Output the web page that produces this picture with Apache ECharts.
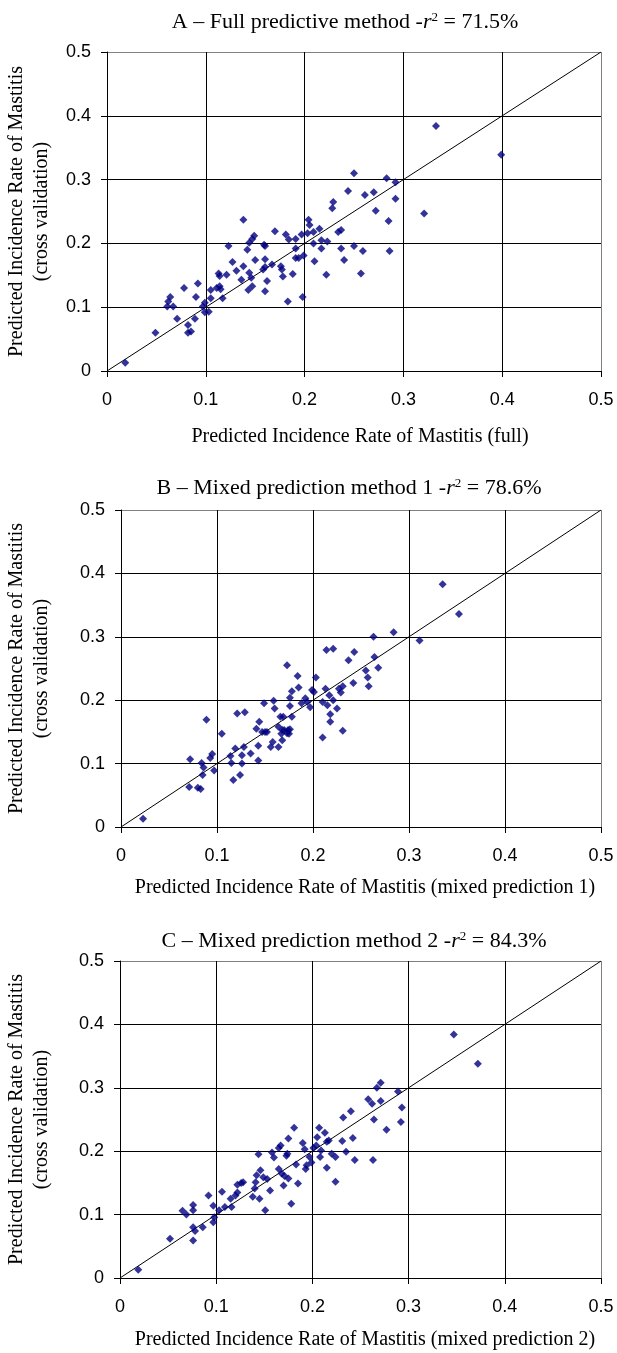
<!DOCTYPE html>
<html>
<head>
<meta charset="utf-8">
<script src="https://cdn.jsdelivr.net/npm/echarts@6/dist/echarts.min.js"></script>
<style>
html,body{margin:0;padding:0;background:#fff;}
#chart{width:617px;height:1353px;}
</style>
</head>
<body>
<div id="chart"></div>
<script>
// ---- Data ----
const tickLabels = ['0', '0.1', '0.2', '0.3', '0.4', '0.5'];
const diagX = [0, 0.5];
const diagY = [0, 0.5];

const titles = [
  'A – Full predictive method -{i|r}{s|2} = 71.5%',
  'B – Mixed prediction method 1 -{i|r}{s|2} = 78.6%',
  'C – Mixed prediction method 2 -{i|r}{s|2} = 84.3%'
];
const xNames = [
  'Predicted Incidence Rate of Mastitis (full)',
  'Predicted Incidence Rate of Mastitis (mixed prediction 1)',
  'Predicted Incidence Rate of Mastitis (mixed prediction 2)'
];
const yNameLine1 = 'Predicted Incidence Rate of Mastitis';
const yNameLine2 = '(cross validation)';

const xA = [0.0185,0.049,0.061,0.064,0.062,0.067,0.071,0.078,0.082,0.082,0.085,0.089,0.090,0.092,0.097,0.099,0.099,0.103,0.105,0.105,
  0.111,0.114,0.115,0.113,0.114,0.121,0.117,0.123,0.127,0.131,0.138,0.138,0.136,0.142,0.144,0.147,0.149,0.144,0.146,0.143,
  0.147,0.150,0.159,0.160,0.160,0.158,0.160,0.162,0.160,0.167,0.170,0.176,0.177,0.178,0.183,0.181,0.184,0.188,0.191,0.191,
  0.191,0.194,0.197,0.198,0.199,0.204,0.205,0.203,0.209,0.209,0.210,0.215,0.217,0.217,0.223,0.222,0.229,0.228,0.234,0.237,
  0.237,0.240,0.244,0.250,0.250,0.257,0.333,0.399,0.283,0.292,0.292,0.261,0.270,0.272,0.285,0.321,0.286,0.259];
const yA = [0.013,0.060,0.101,0.116,0.109,0.101,0.082,0.130,0.072,0.060,0.062,0.082,0.116,0.137,0.101,0.107,0.092,0.093,0.114,0.127,
  0.130,0.133,0.128,0.153,0.149,0.151,0.114,0.196,0.171,0.157,0.237,0.164,0.143,0.190,0.201,0.207,0.212,0.154,0.146,0.127,
  0.133,0.174,0.198,0.196,0.175,0.159,0.163,0.141,0.125,0.167,0.219,0.164,0.159,0.148,0.109,0.214,0.206,0.152,0.207,0.192,
  0.177,0.177,0.214,0.116,0.181,0.237,0.229,0.216,0.218,0.200,0.172,0.223,0.205,0.192,0.203,0.151,0.265,0.255,0.218,0.221,
  0.192,0.174,0.282,0.310,0.196,0.153,0.384,0.339,0.302,0.296,0.270,0.276,0.280,0.251,0.235,0.247,0.188,0.188];

const xB = [0.023,0.072,0.071,0.080,0.083,0.084,0.086,0.085,0.089,0.093,0.095,0.097,0.105,0.114,0.115,0.117,0.119,0.121,0.124,0.126,
  0.126,0.128,0.129,0.135,0.143,0.143,0.141,0.144,0.147,0.149,0.150,0.156,0.158,0.159,0.160,0.164,0.164,0.166,0.167,0.168,
  0.169,0.170,0.173,0.174,0.175,0.176,0.176,0.178,0.178,0.176,0.184,0.185,0.188,0.192,0.194,0.197,0.199,0.201,0.203,0.210,
  0.210,0.213,0.214,0.215,0.217,0.218,0.218,0.221,0.221,0.225,0.227,0.229,0.231,0.231,0.237,0.242,0.243,0.335,0.352,0.311,
  0.284,0.263,0.264,0.268,0.255,0.257,0.258,0.152,0.173,0.168];
const yB = [0.013,0.107,0.063,0.062,0.060,0.101,0.094,0.082,0.169,0.109,0.115,0.089,0.147,0.112,0.101,0.074,0.124,0.179,0.082,0.100,
  0.113,0.126,0.181,0.116,0.105,0.128,0.155,0.166,0.150,0.195,0.150,0.126,0.134,0.199,0.187,0.126,0.158,0.174,0.147,0.137,
  0.174,0.153,0.255,0.153,0.147,0.204,0.191,0.214,0.174,0.154,0.238,0.220,0.195,0.203,0.197,0.189,0.216,0.213,0.236,0.197,
  0.141,0.218,0.279,0.192,0.208,0.178,0.166,0.200,0.281,0.187,0.218,0.212,0.222,0.152,0.263,0.227,0.276,0.383,0.336,0.294,
  0.307,0.300,0.268,0.251,0.247,0.236,0.222,0.150,0.148,0.153];

const xC = [0.019,0.052,0.065,0.069,0.076,0.076,0.076,0.078,0.076,0.086,0.092,0.097,0.098,0.097,0.103,0.106,0.109,0.115,0.116,0.120,
  0.122,0.122,0.126,0.128,0.138,0.140,0.141,0.142,0.144,0.145,0.146,0.149,0.151,0.153,0.156,0.158,0.160,0.165,0.165,0.167,
  0.168,0.170,0.171,0.173,0.174,0.175,0.175,0.178,0.181,0.183,0.185,0.190,0.192,0.193,0.194,0.197,0.199,0.201,0.204,0.205,
  0.207,0.208,0.209,0.213,0.215,0.215,0.217,0.220,0.224,0.224,0.232,0.231,0.235,0.240,0.242,0.244,0.347,0.372,0.271,0.267,
  0.258,0.262,0.271,0.289,0.293,0.292,0.264,0.277,0.263];
const yC = [0.013,0.062,0.106,0.100,0.115,0.107,0.080,0.074,0.059,0.080,0.130,0.114,0.096,0.088,0.107,0.136,0.112,0.125,0.112,0.130,
  0.135,0.147,0.150,0.151,0.128,0.141,0.151,0.162,0.195,0.125,0.170,0.159,0.107,0.156,0.138,0.198,0.190,0.205,0.172,0.209,
  0.165,0.146,0.161,0.193,0.196,0.157,0.220,0.117,0.237,0.179,0.149,0.213,0.203,0.172,0.178,0.191,0.182,0.205,0.209,0.222,
  0.237,0.191,0.201,0.229,0.215,0.174,0.217,0.196,0.191,0.152,0.253,0.216,0.199,0.263,0.221,0.186,0.384,0.338,0.308,0.300,
  0.282,0.275,0.279,0.294,0.269,0.246,0.250,0.234,0.186];

// ---- Build ----
const serif = 'Liberation Serif';
const sans = 'Liberation Sans';
const panels = [
  {xs: xA, ys: yA, grid: {left: 107, top: 52, width: 494, height: 319}, titleX: 345, titleY: 22, xNameX: 360, xNameY: 437},
  {xs: xB, ys: yB, grid: {left: 121, top: 510, width: 480, height: 317}, titleX: 349, titleY: 488, xNameX: 365, xNameY: 888},
  {xs: xC, ys: yC, grid: {left: 120, top: 961, width: 481, height: 317}, titleX: 354, titleY: 941, xNameX: 365, xNameY: 1340}
];
const zip = (a, b) => a.map((v, i) => [v, b[i]]);
const splitColors = ['#000', '#000', '#000', '#000', '#000', '#808080'];

function axisCommon(isX, idx) {
  return {
    type: 'value', gridIndex: idx, min: 0, max: 0.5, interval: 0.1,
    axisLine: {show: true, onZero: false, lineStyle: {color: '#000', width: 1}},
    axisTick: {show: true, inside: false, length: 6, lineStyle: {color: '#000', width: 1}},
    axisLabel: {
      color: '#000', fontSize: 18, fontFamily: sans, margin: isX ? 20 : 16,
      formatter: v => tickLabels[Math.round(v * 10)]
    },
    splitLine: {show: true, lineStyle: {color: splitColors, width: 1}}
  };
}

const grids = [], xAxes = [], yAxes = [], series = [], graphics = [];
panels.forEach((p, i) => {
  grids.push(Object.assign({containLabel: false}, p.grid));
  xAxes.push(axisCommon(true, i));
  yAxes.push(axisCommon(false, i));
  series.push({
    type: 'line', xAxisIndex: i, yAxisIndex: i, data: zip(diagX, diagY),
    symbol: 'none', silent: true, lineStyle: {color: '#000', width: 1}, z: 2
  });
  series.push({
    type: 'scatter', xAxisIndex: i, yAxisIndex: i, data: zip(p.xs, p.ys),
    symbol: 'diamond', symbolSize: 8, itemStyle: {color: '#000080'}, z: 3
  });
  graphics.push({
    type: 'text', x: p.titleX, y: p.titleY, silent: true,
    style: {
      text: titles[i], fill: '#000', fontSize: 22, fontFamily: serif,
      align: 'center', verticalAlign: 'middle',
      rich: {
        i: {fontStyle: 'italic', fontSize: 22, fontFamily: serif, fill: '#000'},
        s: {fontSize: 13, fontFamily: serif, verticalAlign: 'top', fill: '#000'}
      }
    }
  });
  graphics.push({
    type: 'text', x: p.xNameX, y: p.xNameY, silent: true,
    style: {text: xNames[i], fill: '#000', fontSize: 20, fontFamily: serif, align: 'center', verticalAlign: 'middle'}
  });
  const cy = p.grid.top + p.grid.height / 2;
  graphics.push({
    type: 'text', x: 17, y: cy, rotation: Math.PI / 2, silent: true,
    style: {text: yNameLine1, fill: '#000', fontSize: 20, fontFamily: serif, align: 'center', verticalAlign: 'middle'}
  });
  graphics.push({
    type: 'text', x: 42, y: cy, rotation: Math.PI / 2, silent: true,
    style: {text: yNameLine2, fill: '#000', fontSize: 20, fontFamily: serif, align: 'center', verticalAlign: 'middle'}
  });
});

const chart = echarts.init(document.getElementById('chart'), null, {renderer: 'canvas'});
chart.setOption({
  animation: false,
  backgroundColor: '#fff',
  grid: grids,
  xAxis: xAxes,
  yAxis: yAxes,
  series: series,
  graphic: graphics
});
</script>
</body>
</html>
